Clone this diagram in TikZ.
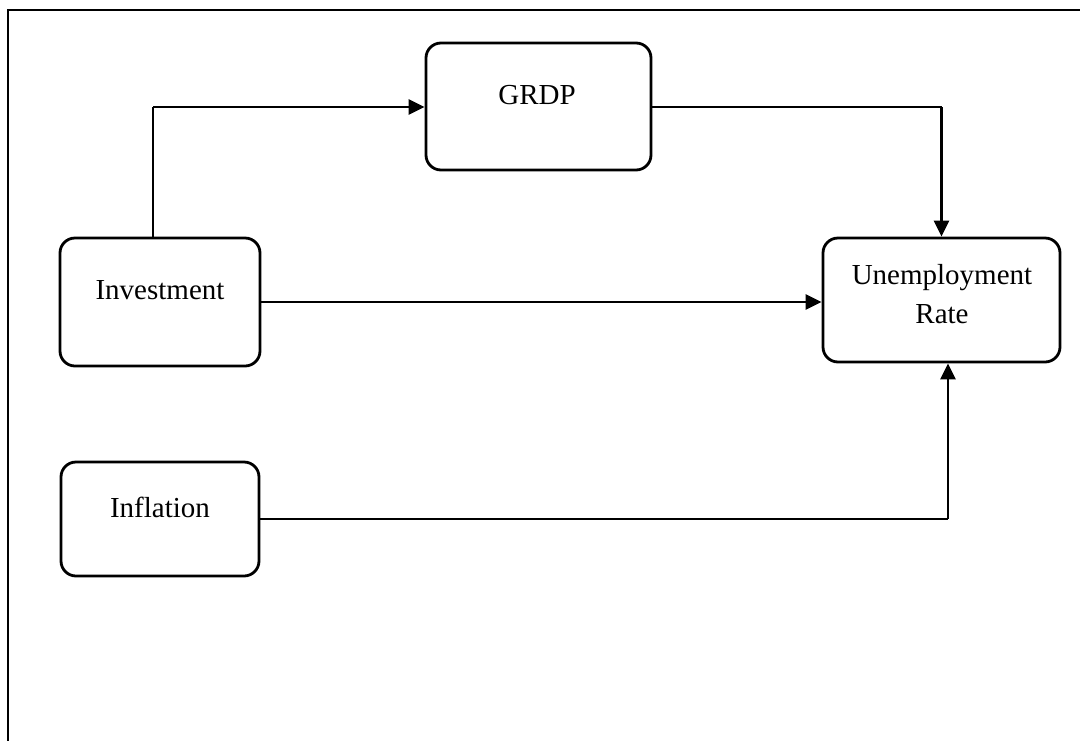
\documentclass[tikz,border=0pt]{standalone}
\usepackage{fontspec}
\setmainfont{Liberation Serif}
\usetikzlibrary{arrows.meta}
\begin{document}
\begin{tikzpicture}[x=1pt,y=-1pt,
  box/.style={draw=black,line width=2.8pt,rounded corners=15pt,inner sep=0pt,fill=white},
  lbl/.style={font=\fontsize{29}{39}\selectfont,align=center,inner sep=0pt},
  thinline/.style={draw=black,line width=1.3pt},
  thickline/.style={draw=black,line width=2.4pt},
  arr/.style={thickline,-{Triangle[length=16pt,width=15pt]}}]
\useasboundingbox (0,0) rectangle (1080,740);
\fill[white] (0,0) rectangle (1080,740);
% outer frame (left and top edges visible)
\draw[line width=2.4pt] (8,741) -- (8,10) -- (1081,10);
% boxes
\node[box,minimum width=200pt,minimum height=128pt] (inv) at (160,302) {};
\node[box,minimum width=198pt,minimum height=114pt] (infl) at (160,519) {};
\node[box,minimum width=225pt,minimum height=127pt] (grdp) at (538.5,106.5) {};
\node[box,minimum width=237pt,minimum height=124pt] (unemp) at (941.5,300) {};
% labels
\node[lbl] (invt) at (160,290) {Investment};
\node[lbl] (inflt) at (160,507) {Inflation};
\node[lbl] (grdpt) at (537,95) {GRDP};
\node[lbl] (unempt) at (942,294) {Unemployment\\Rate};
% connectors
\coordinate (c1) at (153,107);
\coordinate (c2) at (941.5,107);
\coordinate (c3) at (948,519);
\draw[thinline] (c1 |- inv.north) -- (c1);
\draw[arr] (c1) -- (grdp.west |- c1);
\draw[thinline] (grdp.east |- c2) -- (c2);
\draw[arr] (c2) -- (unemp.north);
\draw[arr] (inv.east) -- (unemp.west |- inv.east);
\draw[thinline] (infl.east) -- (c3);
\draw[arr] (c3) -- (c3 |- unemp.south);
\end{tikzpicture}
\end{document}
